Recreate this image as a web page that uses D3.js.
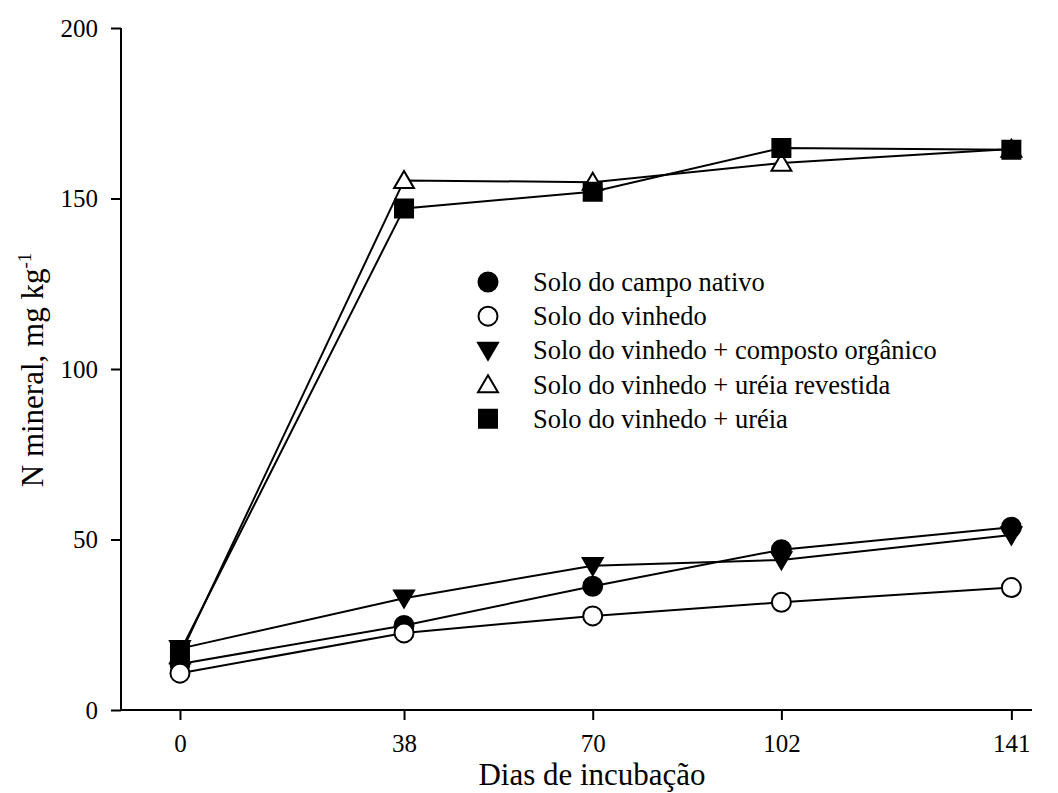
<!DOCTYPE html>
<html>
<head>
<meta charset="utf-8">
<script src="https://cdn.jsdelivr.net/npm/d3@7"></script>
<style>
  html, body { margin: 0; padding: 0; background: #fff; }
  svg { display: block; }
  svg text { font-family: "Liberation Serif", "Times New Roman", serif; fill: #000; }
</style>
</head>
<body>
<svg id="chart" width="1058" height="793"></svg>
<script>
// Incubation days and mineral N (mg/kg) for each soil treatment
const days = [0, 38, 70, 102, 141];
const campoNativo   = [13.5, 24.8, 36.3, 47.0, 53.6];
const vinhedo       = [10.8, 22.6, 27.6, 31.6, 35.9];
const composto      = [18.0, 32.8, 42.3, 44.0, 51.3];
const ureiaRevest   = [16.0, 155.3, 154.8, 160.4, 164.5];
const ureia         = [17.0, 147.1, 152.0, 164.8, 164.3];

const seriesNames = [
  "Solo do campo nativo",
  "Solo do vinhedo",
  "Solo do vinhedo + composto orgânico",
  "Solo do vinhedo + uréia revestida",
  "Solo do vinhedo + uréia"
];
const yTicks = [0, 50, 100, 150, 200];

const series = [
  { name: seriesNames[0], values: campoNativo, shape: "circle",   fill: "#000" },
  { name: seriesNames[1], values: vinhedo,     shape: "circle",   fill: "#fff" },
  { name: seriesNames[2], values: composto,    shape: "triDown",  fill: "#000" },
  { name: seriesNames[3], values: ureiaRevest, shape: "triUp",    fill: "#fff" },
  { name: seriesNames[4], values: ureia,       shape: "square",   fill: "#000" }
];

const FONT = '"Liberation Serif", "Times New Roman", serif';
const svg = d3.select("#chart").attr("font-family", FONT);

const x = d3.scaleLinear().domain([-10, 144.5]).range([121, 1032]);
const y = d3.scaleLinear().domain([0, 200]).range([710, 28]);

// Marker path generators centred on (0,0)
function markerPath(shape, s) {
  if (shape === "circle") return d3.symbol(d3.symbolCircle, Math.PI * s * s)();
  if (shape === "square") return `M${-s},${-s}H${s}V${s}H${-s}Z`;
  if (shape === "triUp") {
    const h = s * 1.8;
    return `M0,${-h * 0.55}L${s * 1.05},${h * 0.45}L${-s * 1.05},${h * 0.45}Z`;
  }
  if (shape === "triDown") {
    const h = s * 1.8;
    return `M0,${h * 0.55}L${s * 1.05},${-h * 0.45}L${-s * 1.05},${-h * 0.45}Z`;
  }
}
const markerSize = { circle: 9.5, square: 9, triUp: 9.5, triDown: 9.5 };

// Axes
const xAxis = d3.axisBottom(x).tickValues(days).tickSize(10).tickPadding(8).tickFormat(d3.format("d"));
const yAxis = d3.axisLeft(y).tickValues(yTicks).tickSize(10).tickPadding(13);

const gx = svg.append("g").attr("transform", "translate(0,710)").call(xAxis);
const gy = svg.append("g").attr("transform", "translate(121,0)").call(yAxis);
[gx, gy].forEach(g => {
  g.attr("font-family", FONT).attr("font-size", 25);
  g.select(".domain").attr("stroke", "#000").attr("stroke-width", 2);
  g.selectAll(".tick line").attr("stroke", "#000").attr("stroke-width", 2);
  g.selectAll(".tick text").attr("fill", "#000")
    .style("font-family", FONT).style("font-size", "25px");
});
gx.select(".domain").attr("d", "M121,0H1032");
gy.select(".domain").attr("d", "M0,28V710");
gx.selectAll(".tick text").attr("dy", "0.95em");

// Axis titles
svg.append("text")
  .attr("x", 592).attr("y", 785)
  .attr("text-anchor", "middle")
  .style("font-family", FONT)
  .style("font-size", "31px")
  .text("Dias de incubação");

const yTitle = svg.append("text")
  .attr("transform", "translate(43,370) rotate(-90)")
  .attr("text-anchor", "middle")
  .style("font-family", FONT)
  .style("font-size", "31px");
yTitle.append("tspan").text("N mineral, mg kg");
yTitle.append("tspan").attr("dy", "-12").style("font-size", "19px").text("-1");

// Lines (drawn first) then markers
const line = d3.line().x((d, i) => x(days[i])).y(d => y(d));
const drawOrder = [3, 4, 2, 0, 1];

drawOrder.forEach(k => {
  const s = series[k];
  svg.append("path")
    .attr("d", line(s.values))
    .attr("fill", "none")
    .attr("stroke", "#000")
    .attr("stroke-width", 2);
});
drawOrder.forEach(k => {
  const s = series[k];
  svg.append("g").selectAll("path")
    .data(s.values)
    .join("path")
    .attr("transform", (d, i) => `translate(${x(days[i])},${y(d)})`)
    .attr("d", markerPath(s.shape, markerSize[s.shape]))
    .attr("fill", s.fill)
    .attr("stroke", "#000")
    .attr("stroke-width", 2);
});

// Legend
const legend = svg.append("g").attr("transform", "translate(488,282)");
series.forEach((s, i) => {
  const row = legend.append("g").attr("transform", `translate(0,${i * 34.2})`);
  row.append("path")
    .attr("d", markerPath(s.shape, markerSize[s.shape]))
    .attr("fill", s.fill)
    .attr("stroke", "#000")
    .attr("stroke-width", 2);
  row.append("text")
    .attr("x", 45).attr("y", 9)
    .style("font-family", FONT)
    .style("font-size", "26.5px")
    .text(s.name);
});
</script>
</body>
</html>
